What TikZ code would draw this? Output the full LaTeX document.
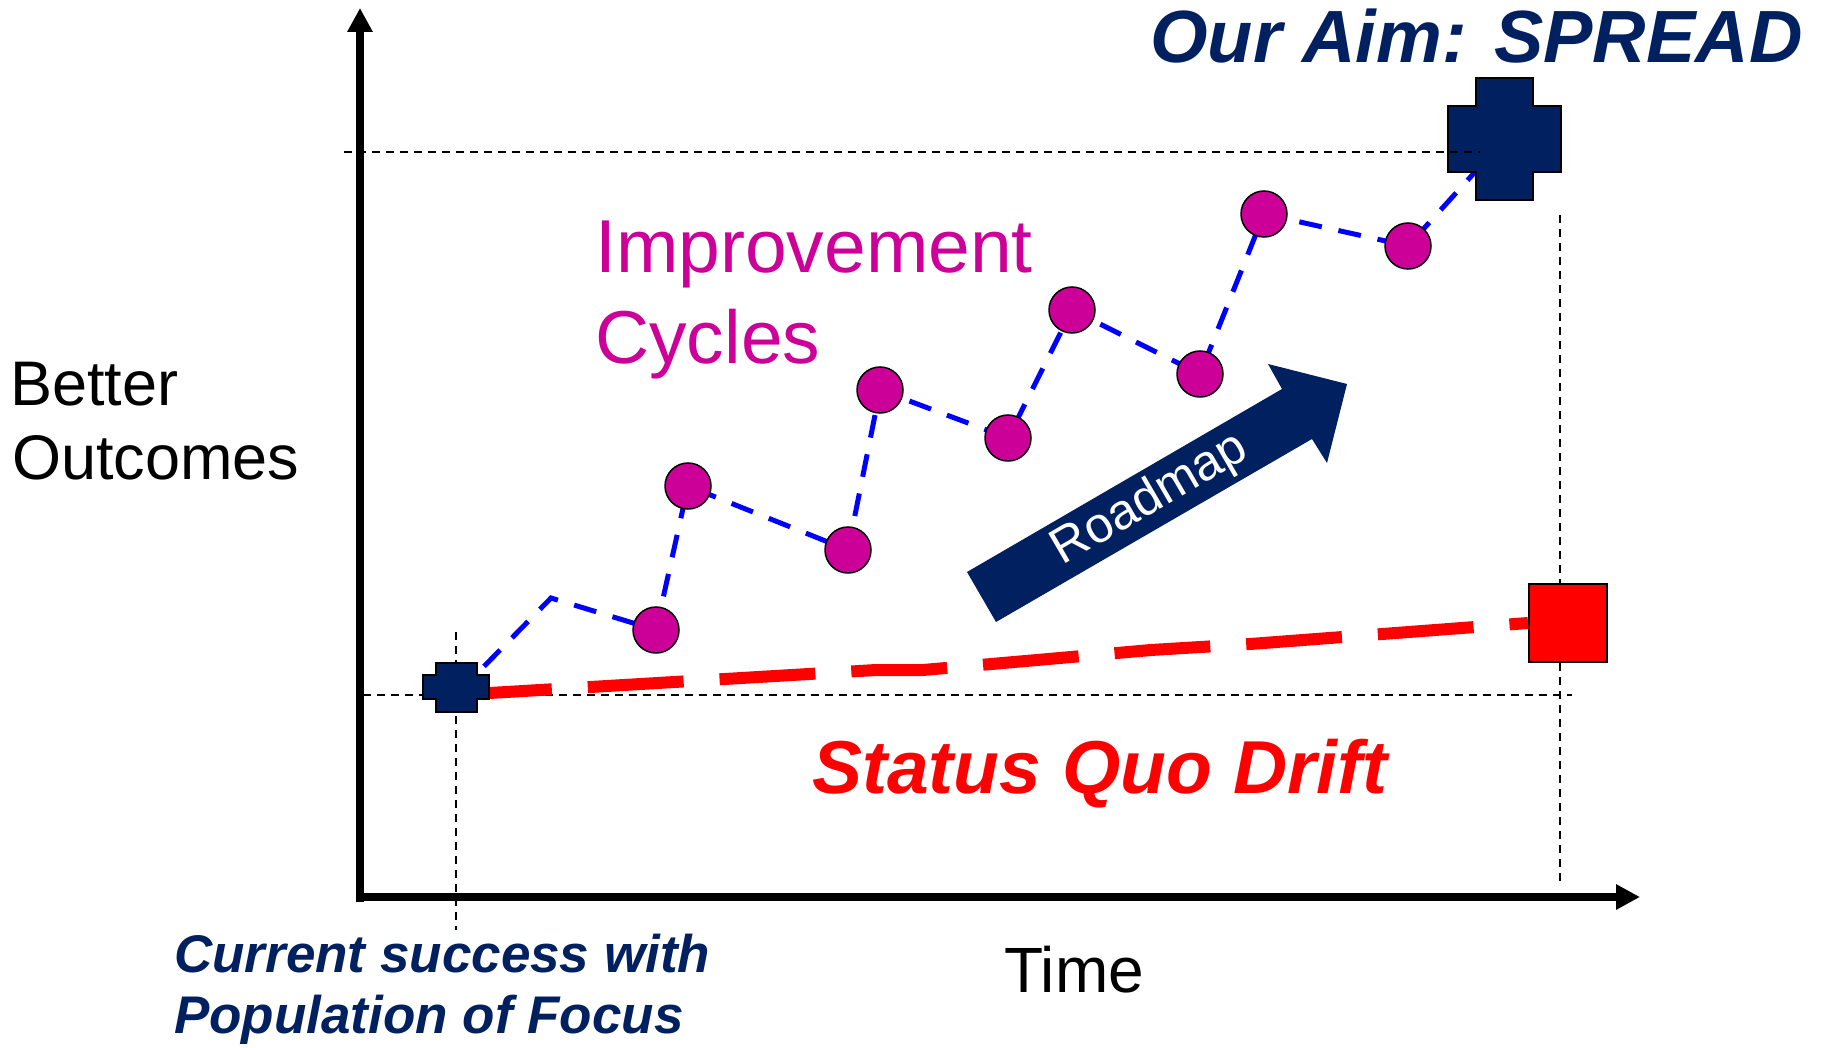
\documentclass[tikz,border=0pt]{standalone}
\usepackage{fontspec}
\setmainfont{Liberation Sans}
\usetikzlibrary{arrows.meta}
\definecolor{navyc}{RGB}{0,32,96}
\definecolor{magc}{RGB}{204,0,153}
\definecolor{bluec}{RGB}{0,0,255}
\definecolor{redc}{RGB}{255,0,0}
\newcommand\fsz[1]{\fontsize{#1}{#1}\selectfont}
\begin{document}
\begin{tikzpicture}[x=1pt,y=-1pt,
  guide/.style={black, line width=2pt, dash pattern=on 8pt off 6pt},
  axisline/.style={black, line width=8pt, -{Triangle[length=24pt,width=24pt]}},
  cyclebox/.style={circle, draw=black, line width=1.5pt, fill=magc, minimum size=46pt, inner sep=0pt},
  cycleline/.style={bluec, line width=5pt, dash pattern=on 23pt off 17pt},
  driftline/.style={redc, line width=12pt, dash pattern=on 96pt off 36pt},
  crossshape/.style={fill=navyc, draw=black, line width=2pt},
  label/.style={inner sep=0pt, anchor=base west},
  navytext/.style={label, text=navyc},
]
\useasboundingbox (0,0) rectangle (1823,1048);
\fill[white] (0,0) rectangle (1823,1048);

% guide lines
\coordinate (origin) at (456,695);
\coordinate (gb1) at (363,695);
\coordinate (gb2) at (1572,695);
\coordinate (gl1) at (456,632);
\coordinate (gl2) at (456,930);
\coordinate (gr1) at (1560,215);
\coordinate (gr2) at (1560,883);
\coordinate (gt1) at (344,152);
\coordinate (gt2) at (1480,152);
\draw[guide] (gb1) -- (gb2);
\draw[guide] (gl1) -- (gl2);
\draw[guide] (gr1) -- (gr2);

% axes
\coordinate (ybot) at (360,902);
\coordinate (ytop) at (360,8);
\coordinate (xleft) at (356,897);
\coordinate (xright) at (1640,897);
\draw[axisline] (ybot) -- (ytop);
\draw[axisline] (xleft) -- (xright);

% roadmap arrow
\fill[navyc] (967,572) -- (1282,389) -- (1268,364) -- (1347,384) -- (1327,463) -- (1312,439) -- (996,622) -- cycle;
\node[inner sep=0pt, rotate=30.2, text=white, font=\fsz{50}] (roadmap) at (1150,500) {Roadmap};

% status quo drift line
\node[rectangle, draw=black, line width=2pt, fill=redc, minimum width=78pt, minimum height=78pt, inner sep=0pt] (sq) at (1568,623) {};
\coordinate (d1) at (876,670);
\coordinate (d2) at (923,670);
\coordinate (d3) at (1151,650);
\coordinate (d4) at (1250,644);
\draw[driftline] (origin) -- (d1) -- (d2) -- (d3) -- (d4) -- (sq.west);

% improvement cycles
\coordinate (aim) at (1504,140);
\coordinate (k1) at (551,598);
\coordinate (p1) at (656,630);
\coordinate (p2) at (688,486);
\coordinate (p3) at (848,550);
\coordinate (p4) at (880,390);
\coordinate (p5) at (1008,438);
\coordinate (p6) at (1072,310);
\coordinate (p7) at (1200,374);
\coordinate (p8) at (1264,214);
\coordinate (p9) at (1408,246);
\draw[cycleline] (origin) -- (k1) -- (p1) -- (p2) -- (p3) -- (p4) -- (p5) -- (p6) -- (p7) -- (p8) -- (p9) -- (aim);
\foreach \i in {1,...,9}
  \node[cyclebox] (c\i) at (p\i) {};

% crosses
\draw[crossshape] (436,663) -- (477,663) -- (477,675) -- (489,675) -- (489,699) -- (477,699) -- (477,712) -- (436,712) -- (436,699) -- (423,699) -- (423,675) -- (436,675) -- cycle;
\draw[crossshape] (1476,78) -- (1533,78) -- (1533,106) -- (1561,106) -- (1561,172) -- (1533,172) -- (1533,200) -- (1476,200) -- (1476,172) -- (1448,172) -- (1448,106) -- (1476,106) -- cycle;
\draw[guide] (gt1) -- (gt2);

% texts
\node[navytext, font=\bfseries\itshape\fsz{74}] (aimtext) at (1150,63) {Our Aim: SPREAD};
\node[label, text=magc, font=\fsz{75}] (imp1) at (595,273) {Improvement};
\node[label, text=magc, font=\fsz{75}] (imp2) at (595,363) {Cycles};
\node[label, font=\fsz{63}] (better) at (10,406) {Better};
\node[label, font=\fsz{63}] (outcomes) at (12,479) {Outcomes};
\node[label, text=redc, font=\bfseries\itshape\fsz{75}] (drift) at (812,793) {Status Quo Drift};
\node[label, font=\fsz{64}] (time) at (1004,992) {Time};
\node[navytext, font=\bfseries\itshape\fsz{53}] (cur1) at (174,972) {Current success with};
\node[navytext, font=\bfseries\itshape\fsz{53}] (cur2) at (174,1033) {Population of Focus};
\end{tikzpicture}
\end{document}
